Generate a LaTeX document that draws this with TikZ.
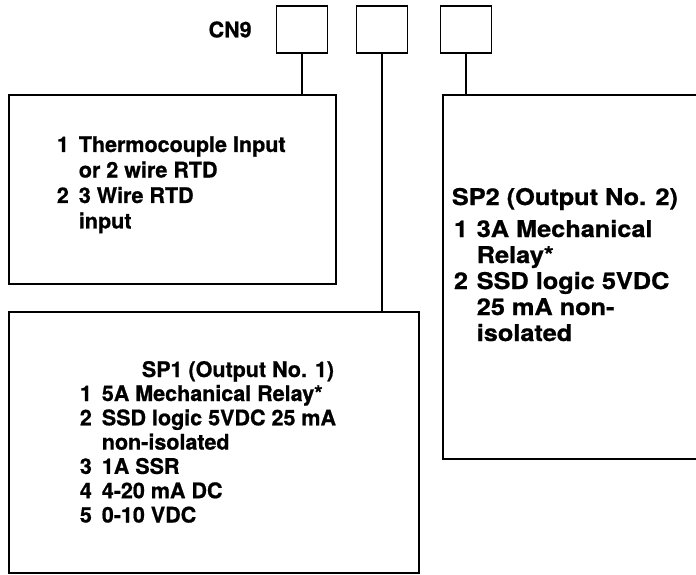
\documentclass[tikz,border=0pt]{standalone}
\usepackage{fontspec}
\setmainfont{TeX Gyre Heros}[BoldFeatures={FakeBold=0.8}]
\usetikzlibrary{positioning}

\begin{document}
\begin{tikzpicture}[x=1pt,y=-1pt,line width=1.8pt,
    conbox/.style={draw, minimum width=51pt, minimum height=47pt, inner sep=0pt, outer sep=0pt},
    panel/.style={draw, anchor=north west, inner sep=0pt, outer sep=0pt},
    lbl/.style={inner sep=0pt, anchor=base west, font=\fontsize{21.5}{#1}\selectfont\bfseries},
    lblB/.style={inner sep=0pt, anchor=base west, font=\fontsize{23}{#1}\selectfont\bfseries}]
    \useasboundingbox (0,0) rectangle (696,575);
    \clip (0,0) rectangle (696,575);

    \node[conbox] (con1) at (302,29.5) {};
    \node[conbox, right=29pt of con1] (con2) {};
    \node[conbox, right=33pt of con2] (con3) {};
    \node[lbl=24, left=24pt of con1] (cn9) {CN9};

    \node[panel, minimum width=327pt, minimum height=189pt] (boxA) at (9,95) {};
    \node[panel, minimum width=270pt, minimum height=364pt] (boxB) at (443,95) {};
    \node[panel, minimum width=410pt, minimum height=261pt] (boxC) at (9,312) {};

    \draw (con1.south) -- (con1.south |- boxA.north);
    \draw (con2.south) -- (con2.south |- boxC.north);
    \draw (con3.south) -- (con3.south |- boxB.north);

    \node[lbl=25.5] (listA) at (56,152) {\begin{tabular}[t]{@{}l@{\hspace{10pt}}l@{}}
      1 & Thermocouple Input\\
        & or 2 wire RTD\\
      2 & 3 Wire RTD\\
        & input
    \end{tabular}};

    \node[lblB=26] (headB) at (451,205) {\scalebox{1.1}[1]{SP2 (Output No. 2)}};
    \node[lblB=26] (listB) at (453,237) {\scalebox{1.1}[1]{\begin{tabular}[t]{@{}l@{\hspace{8pt}}l@{}}
      1 & 3A Mechanical\\
        & Relay*\\
      2 & SSD logic 5VDC\\
        & 25 mA non-\\
        & isolated
    \end{tabular}}};

    \node[lbl=24.3] (headC) at (141,377) {SP1 (Output No. 1)};
    \node[lbl=24.3] (listC) at (79,401) {\begin{tabular}[t]{@{}l@{\hspace{10pt}}l@{}}
      1 & 5A Mechanical Relay*\\
      2 & SSD logic 5VDC 25 mA\\
        & non-isolated\\
      3 & 1A SSR\\
      4 & 4-20 mA DC\\
      5 & 0-10 VDC
    \end{tabular}};
\end{tikzpicture}
\end{document}
